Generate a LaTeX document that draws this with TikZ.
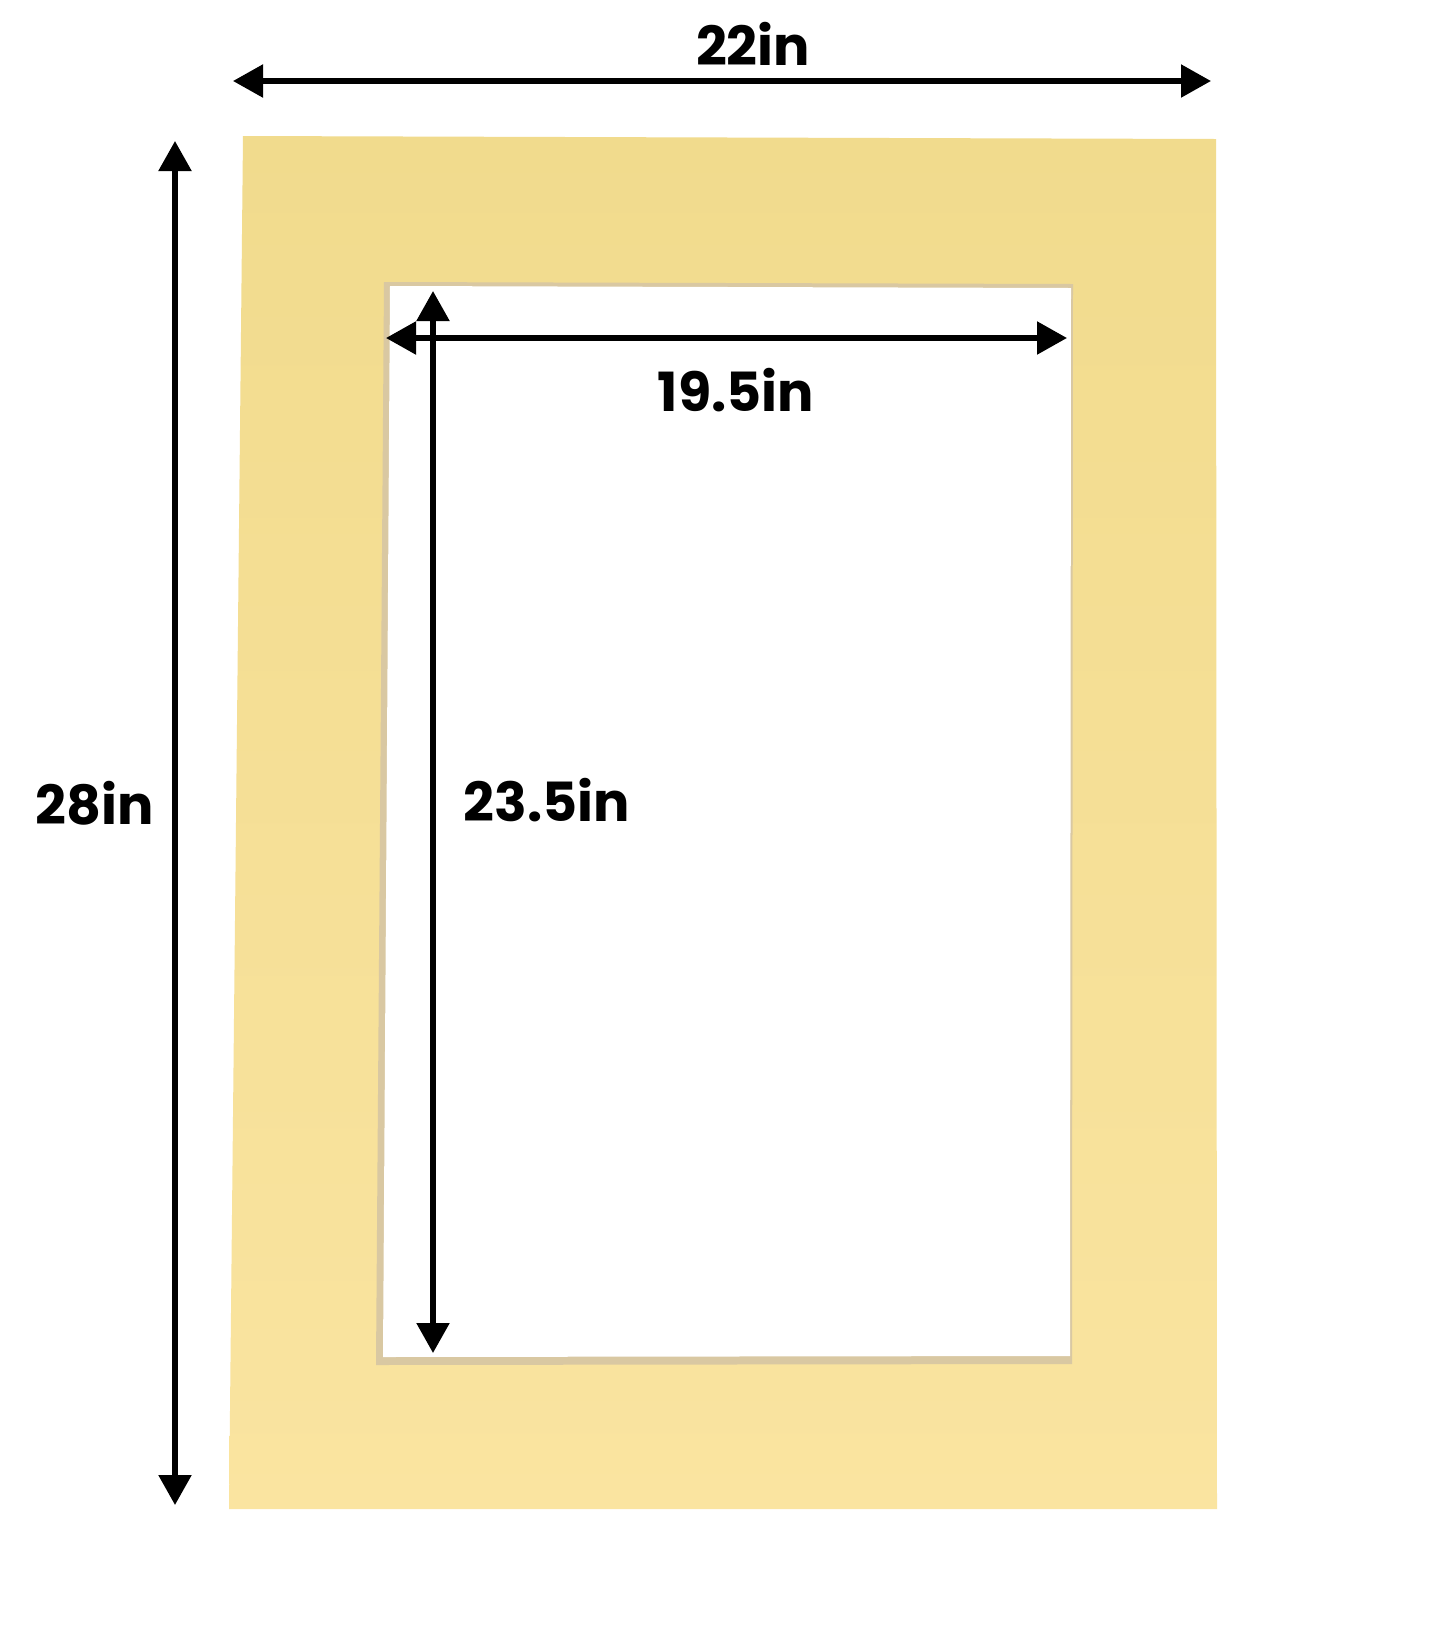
\documentclass[tikz,border=0pt]{standalone}
\usepackage{fontspec}
\setmainfont{Poppins}
\usepackage{tikz}
\usetikzlibrary{arrows.meta}

\definecolor{matTop}{HTML}{F1DB8D}
\definecolor{matBottom}{HTML}{FAE4A0}
\definecolor{bevel}{HTML}{D9C8A2}

\tikzset{
    dimline/.style={line width=2.7pt, {Triangle[length=15pt,width=16pt]}-{Triangle[length=15pt,width=16pt]}},
    dimlabel/.style={font=\fontsize{27}{32}\selectfont\bfseries, inner sep=0pt}
}

\begin{document}
\begin{tikzpicture}[x=0.5pt, y=-0.5pt]
        \useasboundingbox[fill=white] (0,0) rectangle (1445,1645);
        % mat board
        \shade[top color=matTop, bottom color=matBottom] (243,136) -- (1216,139) -- (1217,1509) -- (229,1509) -- cycle;
        % window with bevel
        \fill[bevel] (384,282) -- (1073,284) -- (1072,1364) -- (376,1365) -- cycle;
        \fill[white] (390,286) -- (1071,288) -- (1070,1356) -- (383,1357) -- cycle;

        % outer width
        \coordinate (wl) at (233,81);
        \coordinate (wr) at (1211,81);
        \draw[dimline] (wl) -- (wr);
        \node[dimlabel] (w) at (753,44) {22in};

        % outer height
        \coordinate (ht) at (175,141);
        \coordinate (hb) at (175,1505);
        \draw[dimline] (ht) -- (hb);
        \node[dimlabel] (h) at (95,803) {28in};

        % opening width
        \coordinate (owl) at (386,338);
        \coordinate (owr) at (1067,338);
        \draw[dimline] (owl) -- (owr);
        \node[dimlabel] (ow) at (736,390) {19.5in};

        % opening height
        \coordinate (oht) at (433,291);
        \coordinate (ohb) at (433,1353);
        \draw[dimline] (oht) -- (ohb);
        \node[dimlabel] (oh) at (547,800) {23.5in};
    \end{tikzpicture}
\end{document}
